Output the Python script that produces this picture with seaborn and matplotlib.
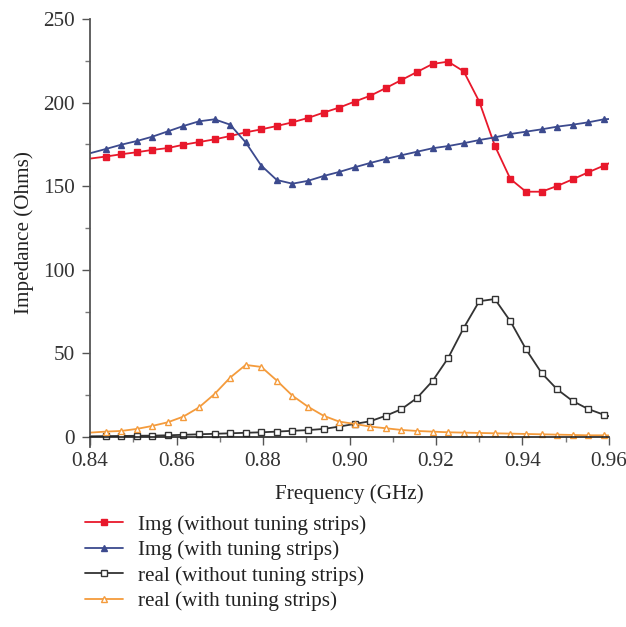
import numpy as np
import pandas as pd
import matplotlib
matplotlib.use("Agg")
import matplotlib.pyplot as plt
import seaborn as sns
from matplotlib.ticker import MultipleLocator

# Frequency grid (GHz): line start, 33 marker positions, line end
freq = [0.84] + [round(0.84 + 0.0036 * k, 4) for k in range(1, 34)] + [0.96]

img_without = [166.5, 167.7, 169.1, 170.3, 171.7, 172.8, 174.8, 176.4, 178.0, 180.0, 182.2,
               184.0, 186.0, 188.2, 190.8, 194.0, 197.0, 200.6, 204.1, 208.7, 213.5,
               218.3, 223.1, 224.5, 218.7, 200.6, 174.2, 154.3, 146.7, 146.7, 150.1,
               154.1, 158.3, 162.3, 163.7]
img_with = [169.7, 172.2, 174.8, 177.0, 179.6, 182.8, 186.0, 188.8, 190.0, 186.8, 176.2,
            162.3, 153.7, 151.5, 153.2, 156.1, 158.5, 161.3, 163.9, 166.3, 168.5,
            170.6, 172.7, 174.0, 175.7, 177.6, 179.2, 181.2, 182.6, 184.0, 185.6,
            186.8, 188.2, 190.0, 190.2]
real_without = [0.4, 0.5, 0.6, 0.7, 0.8, 1.0, 1.3, 1.6, 1.9, 2.2, 2.5,
                2.8, 3.2, 3.7, 4.1, 4.8, 6.2, 7.8, 9.4, 12.7, 16.6,
                23.3, 33.5, 47.2, 65.2, 81.2, 82.5, 69.2, 52.5, 38.3, 28.5,
                21.5, 16.7, 13.3, 12.4]
real_with = [2.6, 3.2, 3.6, 4.8, 6.6, 8.8, 12.2, 17.7, 25.7, 35.5, 43.1,
             41.9, 33.7, 24.7, 18.1, 12.7, 9.2, 7.8, 6.2, 5.2, 4.2,
             3.6, 3.2, 2.8, 2.6, 2.4, 2.2, 2.0, 1.8, 1.6, 1.4,
             1.2, 1.0, 1.0, 0.9]

labels = ["Img (without tuning strips)", "Img (with tuning strips)",
          "real (without tuning strips)", "real (with tuning strips)"]
xticks = [0.84, 0.86, 0.88, 0.90, 0.92, 0.94, 0.96]
yticks = [0, 50, 100, 150, 200, 250]

sns.set_theme(style="white")
plt.rcParams["font.family"] = ["Liberation Serif", "DejaVu Serif"]

FS = 15.2
fig = plt.figure(figsize=(6.26, 6.27), dpi=100)
ax = fig.add_axes([90 / 626, 1 - 447 / 627, (609 - 90) / 626, (447 - 19) / 627])

styles = [
    dict(color="#e8182b", marker="s", mfc="#e8182b", mec="#e8182b", ms=4.2),
    dict(color="#3c4a8e", marker="^", mfc="#3c4a8e", mec="#3c4a8e", ms=4.8),
    dict(color="#333333", marker="s", mfc="white", mec="#333333", ms=4.2),
    dict(color="#f49b3c", marker="^", mfc="white", mec="#f49b3c", ms=4.8),
]
series = [img_without, img_with, real_without, real_with]
for vals, lab, st in zip(series, labels, styles):
    sns.lineplot(x=freq, y=vals, ax=ax, label=lab, linewidth=1.3,
                 markevery=slice(1, 34), markeredgewidth=1.0, sort=False, **st)

ax.set_xlim(0.84, 0.96)
ax.set_ylim(-6, 250)
ax.set_xticks(xticks)
ax.set_xticklabels([f"{t:.2f}" for t in xticks])
ax.set_yticks(yticks)
ax.xaxis.set_minor_locator(MultipleLocator(0.01))
ax.yaxis.set_minor_locator(MultipleLocator(25))

for s in ["top", "right"]:
    ax.spines[s].set_visible(False)
ax.spines["bottom"].set_position(("data", 0))
ax.spines["bottom"].set_color("#222222")
ax.spines["left"].set_color("#555555")
ax.spines["bottom"].set_linewidth(1.2)
ax.spines["left"].set_linewidth(1.3)

ax.tick_params(axis="both", which="major", direction="out", length=6, width=1,
               color="#555555", labelsize=FS, labelcolor="#333333", pad=5,
               bottom=True, left=True)
ax.tick_params(axis="both", which="minor", direction="out", length=3.5, width=1,
               color="#777777", bottom=True, left=True)

ax.set_xlabel("Frequency (GHz)", fontsize=FS, color="#222222")
ax.set_ylabel("Impedance (Ohms)", fontsize=FS, color="#222222")
ax.xaxis.set_label_coords(0.5, -0.087)
ax.yaxis.set_label_coords(-0.107, 0.5)

handles, labs = ax.get_legend_handles_labels()
ax.get_legend().remove()
fig.legend(handles, labs, loc="upper left", bbox_to_anchor=(85 / 626, 1 - 515 / 627),
           frameon=False, fontsize=FS, handlelength=1.8, handletextpad=0.7,
           labelspacing=0.27, borderpad=0, borderaxespad=0, labelcolor="#222222")

fig.savefig("out.png", dpi=100, facecolor="white")
